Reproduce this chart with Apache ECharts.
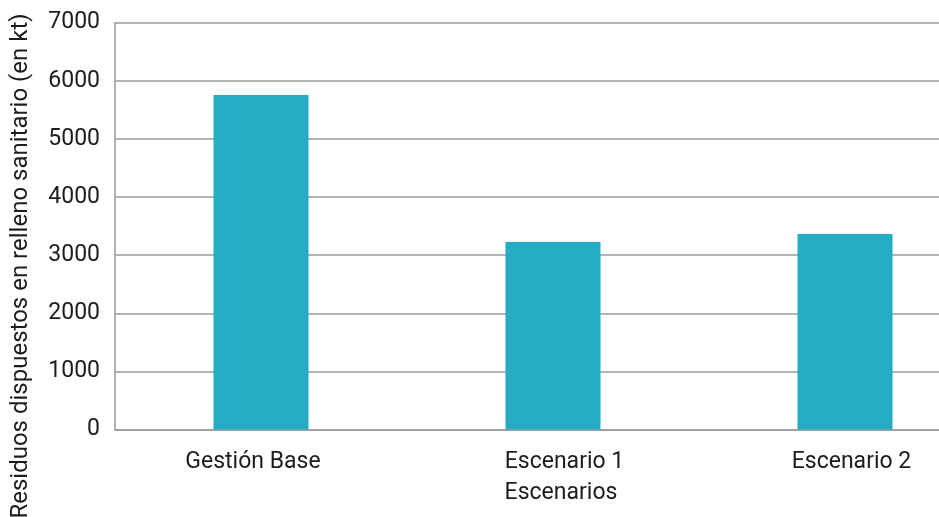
<!DOCTYPE html>
<html>
<head>
<meta charset="utf-8">
<script src="https://cdn.jsdelivr.net/npm/echarts@6/dist/echarts.min.js"></script>
<style>
  html, body { margin: 0; padding: 0; background: #ffffff; overflow: hidden; }
  #wrap { width: 939px; height: 517px; overflow: hidden; position: relative; }
  /* plot runs past the right edge of the visible area */
  #chart { width: 991px; height: 517px; }
</style>
</head>
<body>
<div id="wrap"><div id="chart"></div></div>
<script>
// Residuos dispuestos en relleno sanitario por escenario (kt)
const categories = ['Gestión Base', 'Escenario 1', 'Escenario 2'];
const residuos = [5755, 3228, 3365];
const yTicks = [0, 1000, 2000, 3000, 4000, 5000, 6000, 7000];

const FONT = 'Roboto, "DejaVu Sans", sans-serif';
const FS = 23;
const TEXT = '#1c1c1c';
const GRID = '#9a9a9a';

const chart = echarts.init(document.getElementById('chart'), null, { renderer: 'canvas' });

chart.setOption({
  animation: false,
  backgroundColor: '#ffffff',
  grid: { left: 115, right: 0, top: 22.7, bottom: 87.5, containLabel: false },
  xAxis: {
    type: 'category',
    data: categories,
    name: 'Escenarios',
    nameLocation: 'middle',
    nameGap: 52,
    nameTextStyle: { fontFamily: FONT, fontSize: FS, color: TEXT, padding: [0, 0, 0, 16] },
    axisLine: { show: true, lineStyle: { color: GRID, width: 1.5 } },
    axisTick: { show: false },
    axisLabel: {
      fontFamily: FONT, fontSize: FS, color: TEXT, margin: 21,
      formatter: function (v, i) { return '{c' + i + '|' + v + '}'; },
      rich: {
        c0: { fontFamily: FONT, fontSize: FS, color: TEXT, padding: [0, 16, 0, 0] },
        c1: { fontFamily: FONT, fontSize: FS, color: TEXT, padding: [0, 0, 0, 23] },
        c2: { fontFamily: FONT, fontSize: FS, color: TEXT, padding: [0, 0, 0, 13] }
      }
    }
  },
  yAxis: {
    type: 'value',
    min: yTicks[0],
    max: yTicks[yTicks.length - 1],
    interval: yTicks[1] - yTicks[0],
    axisLine: { show: true, lineStyle: { color: GRID, width: 1.5 } },
    axisTick: { show: false },
    axisLabel: {
      fontFamily: FONT, fontSize: FS, color: TEXT, margin: 15,
      formatter: function (v) { return String(v); }
    },
    splitLine: { show: true, lineStyle: { color: GRID, width: 1.5 } }
  },
  series: [{
    type: 'bar',
    data: residuos,
    barWidth: 95,
    itemStyle: { color: '#25acc4' }
  }],
  graphic: [{
    type: 'text',
    x: 21,
    y: 266,
    rotation: Math.PI / 2,
    style: {
      text: 'Residuos dispuestos en relleno sanitario (en kt)',
      fontFamily: FONT,
      fontSize: 24,
      fill: TEXT,
      align: 'center',
      verticalAlign: 'middle'
    }
  }]
});
</script>
</body>
</html>
